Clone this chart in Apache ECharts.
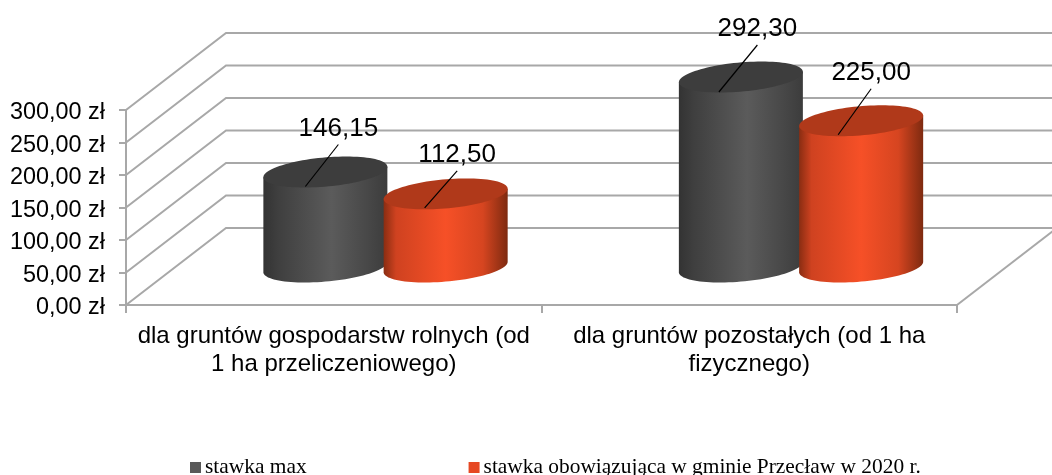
<!DOCTYPE html>
<html><head><meta charset="utf-8">
<style>html,body{margin:0;padding:0;background:#fff}#c{width:1052px;height:475px}</style>
<script src="https://cdn.jsdelivr.net/npm/echarts@6/dist/echarts.min.js"></script>
</head><body><div id="c"></div>
<script>
const categories = ['dla gruntów gospodarstw rolnych (od\n1 ha przeliczeniowego)', 'dla gruntów pozostałych (od 1 ha\nfizycznego)'];
const seriesNames = ['stawka max', 'stawka obowiązująca w gminie Przecław w 2020 r.'];
const stawkaMax = [146.15, 292.30];
const stawkaGmina = [112.50, 225.00];
const yTicks = [0, 50, 100, 150, 200, 250, 300];

const DEPTH_X = 100, DEPTH_Y = -77;
const GRAY = '#a8a8a8';
const SERIF = '"Liberation Serif", serif', SANS = '"Liberation Sans", Arial, sans-serif';
const styles = [
  { side: [[0,'#333333'],[0.12,'#3f3f3f'],[0.55,'#5b5b5b'],[0.85,'#474747'],[1,'#3c3c3c']], top: '#3d3d3d', legend: '#595959', offset: -0.1405,
    leader: [{ end: [-20, 14.5], start: [13, -27.5] }, { end: [-22, 15], start: [16.5, -32] }] },
  { side: [[0,'#8a2d12'],[0.1,'#cf4220'],[0.5,'#f65027'],[0.8,'#d64520'],[1,'#7e2a10']], top: '#b0391a', legend: '#e64823', offset: 0.149,
    leader: [{ end: [-21, 14], start: [11.5, -23] }, { end: [-23, 14], start: [10, -32] }] }
];
const fmt = v => v.toFixed(2).replace('.', ',');

function wallItem(params, api) {
  const cs = params.coordSys, y = api.coord([0, api.value(0)])[1];
  const left = cs.x, right = cs.x + cs.width;
  const pts = [[left, y], [left + DEPTH_X, y + DEPTH_Y], [right + DEPTH_X, y + DEPTH_Y]];
  const children = [{ type: 'polyline', shape: { points: pts }, style: { stroke: GRAY, lineWidth: 2, fill: null } }];
  if (api.value(0) === 0) {
    children.push({ type: 'line', shape: { x1: right, y1: y, x2: right + DEPTH_X, y2: y + DEPTH_Y }, style: { stroke: GRAY, lineWidth: 2 } });
  }
  return { type: 'group', children };
}

function cylinder(idx) {
  const st = styles[idx];
  return function (params, api) {
    const cat = api.value(0), val = api.value(1);
    const band = api.size([1, 0])[0];
    const base = api.coord([cat, 0]), topP = api.coord([cat, val]);
    const cx = base[0] + band * st.offset + DEPTH_X / 2;
    const by = base[1] + DEPTH_Y / 2 + 0.5, ty = topP[1] + DEPTH_Y / 2 + 0.5;
    const ax = band * 0.1406, bx = band * 0.05, byy = band * 0.0373;
    const t0 = Math.atan2(bx, ax);
    const pt = (t, yc) => [cx + Math.cos(t) * ax + Math.sin(t) * bx, yc - Math.sin(t) * byy];
    const body = [], lid = [];
    body.push(pt(t0 + Math.PI, ty));
    for (let i = 0; i <= 48; i++) body.push(pt(t0 + Math.PI + Math.PI * i / 48, by));
    body.push(pt(t0, ty));
    for (let i = 0; i < 96; i++) lid.push(pt(Math.PI * 2 * i / 96, ty));
    const lead = st.leader[cat];
    const ex = cx + lead.end[0], ey = ty + lead.end[1], sx = cx + lead.start[0], sy = ty + lead.start[1];
    return { type: 'group', children: [
      { type: 'polygon', shape: { points: body }, style: { fill: { type: 'linear', x: 0, y: 0, x2: 1, y2: 0, colorStops: st.side.map(s => ({ offset: s[0], color: s[1] })) } } },
      { type: 'polygon', shape: { points: lid }, style: { fill: st.top } },
      { type: 'line', shape: { x1: sx, y1: sy, x2: ex, y2: ey }, style: { stroke: '#000', lineWidth: 1.2 } },
      { type: 'text', style: { x: sx, y: sy - 16, text: fmt(val), fill: '#000', font: '26px ' + SANS, align: 'center', verticalAlign: 'middle' } }
    ] };
  };
}

const chart = echarts.init(document.getElementById('c'), null, { renderer: 'canvas' });
chart.setOption({
  animation: false,
  backgroundColor: '#fff',
  grid: { left: 126, top: 110, width: 831, height: 195 },
  legend: {
    data: seriesNames, left: 190, top: 457, padding: 0, itemWidth: 11, itemHeight: 11, itemGap: 162, icon: 'rect',
    textStyle: { fontFamily: SERIF, fontSize: 21.4, color: '#000', padding: [0, 0, 0, -1] }
  },
  xAxis: {
    type: 'category', data: categories,
    axisLine: { lineStyle: { color: GRAY, width: 2 } },
    axisTick: { show: true, length: 8, lineStyle: { color: GRAY, width: 2 } },
    axisLabel: { interval: 0, margin: 17, color: '#000', fontFamily: SANS, fontSize: 24, lineHeight: 28 }
  },
  yAxis: {
    type: 'value', min: 0, max: 300, interval: 50,
    axisLine: { show: true, lineStyle: { color: GRAY, width: 2 } },
    axisTick: { show: true, length: 7, lineStyle: { color: GRAY, width: 2 } },
    splitLine: { show: false },
    axisLabel: { margin: 21, color: '#000', fontFamily: SANS, fontSize: 23.4, verticalAlign: 'top', lineHeight: 6, formatter: v => fmt(v) + ' zł' }
  },
  series: [
    { type: 'custom', name: 'ściany', z: 1, silent: true, clip: false, coordinateSystem: 'cartesian2d', data: yTicks.map(v => [v]), encode: { y: 0 }, renderItem: wallItem },
    { type: 'custom', name: seriesNames[0], z: 3, clip: false, itemStyle: { color: styles[0].legend }, data: stawkaMax.map((v, i) => [i, v]), encode: { x: 0, y: 1 }, renderItem: cylinder(0) },
    { type: 'custom', name: seriesNames[1], z: 4, clip: false, itemStyle: { color: styles[1].legend }, data: stawkaGmina.map((v, i) => [i, v]), encode: { x: 0, y: 1 }, renderItem: cylinder(1) }
  ]
});
</script></body></html>
